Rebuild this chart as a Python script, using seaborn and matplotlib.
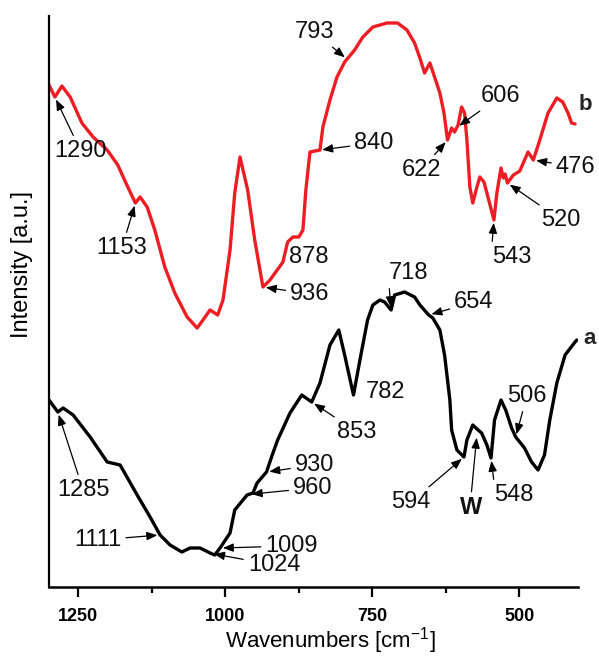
import numpy as np
import pandas as pd
import matplotlib
matplotlib.use("Agg")
import matplotlib.pyplot as plt
import seaborn as sns

# ---- FTIR spectra (wavenumber in cm^-1, intensity in a.u.) ----
# sample b (red, upper trace)
wn_b = [1300, 1290, 1278, 1264, 1244, 1225, 1201, 1183, 1166, 1153,
        1145, 1133, 1120, 1103, 1086, 1065, 1048, 1038, 1026, 1013,
        1004, 992, 984, 975, 962, 950, 936, 924, 902, 894,
        885, 875, 868, 863, 856, 839, 834, 822, 810, 797,
        780, 766, 749, 725, 707, 691, 678, 669, 661, 652,
        644, 635, 628, 622, 615, 610, 604, 598, 593, 589,
        584, 579, 572, 567, 560, 555, 543, 538, 531, 527,
        524, 520, 510, 499, 485, 476, 465, 451, 436, 426,
        417, 411, 405]
int_b = [5.02, 4.90, 5.01, 4.90, 4.64, 4.50, 4.37, 4.22, 4.00, 3.84,
         3.90, 3.80, 3.57, 3.20, 2.94, 2.70, 2.59, 2.67, 2.77, 2.72,
         2.87, 3.37, 3.94, 4.30, 3.97, 3.47, 3.00, 3.07, 3.25, 3.45,
         3.50, 3.50, 3.57, 3.97, 4.35, 4.37, 4.60, 4.87, 5.10, 5.25,
         5.37, 5.50, 5.60, 5.64, 5.64, 5.57, 5.44, 5.29, 5.14, 5.24,
         5.10, 4.94, 4.74, 4.47, 4.59, 4.55, 4.62, 4.80, 4.74, 4.47,
         4.00, 3.84, 4.00, 4.10, 4.05, 3.94, 3.67, 3.94, 4.19, 4.09,
         4.13, 4.04, 4.12, 4.16, 4.35, 4.27, 4.47, 4.74, 4.89, 4.85,
         4.74, 4.64, 4.63]

# sample a (black, lower trace)
wn_a = [1300, 1285, 1276, 1259, 1230, 1201, 1179, 1150, 1128, 1111,
        1094, 1074, 1060, 1043, 1026, 1018, 1009, 992, 984, 963,
        953, 946, 930, 919, 911, 890, 870, 853, 839, 822,
        807, 797, 782, 771, 758, 749, 737, 729, 718, 712,
        695, 678, 669, 654, 647, 635, 627, 618, 615, 606,
        594, 589, 579, 570, 564, 555, 548, 542, 531, 523,
        513, 506, 491, 479, 468, 457, 448, 436, 422, 405,
        402]
int_a = [1.87, 1.75, 1.79, 1.72, 1.50, 1.25, 1.22, 0.92, 0.70, 0.52,
         0.42, 0.35, 0.39, 0.39, 0.34, 0.32, 0.39, 0.54, 0.77, 0.92,
         0.94, 1.04, 1.15, 1.34, 1.47, 1.74, 1.92, 1.85, 2.04, 2.42,
         2.57, 2.32, 1.92, 2.27, 2.67, 2.82, 2.87, 2.85, 2.77, 2.92,
         2.95, 2.90, 2.82, 2.72, 2.69, 2.57, 2.32, 1.87, 1.57, 1.37,
         1.30, 1.47, 1.62, 1.57, 1.54, 1.42, 1.29, 1.67, 1.87, 1.77,
         1.59, 1.50, 1.39, 1.25, 1.17, 1.32, 1.67, 2.04, 2.32, 2.45,
         2.47]

# assigned band positions
bands_b = [1290, 1153, 936, 878, 840, 793, 622, 606, 543, 520, 476]
bands_a = [1285, 1111, 1024, 1009, 960, 930, 853, 782, 718, 654, 594, 548, 506]

major_ticks = [1250, 1000, 750, 500]
minor_ticks = [1125, 875, 625]

sns.set_style("white")
plt.rcParams["font.family"] = ["Liberation Sans", "DejaVu Sans"]
plt.rcParams["mathtext.fontset"] = "custom"
plt.rcParams["mathtext.rm"] = "Liberation Sans"
plt.rcParams["mathtext.default"] = "regular"

df = pd.concat([
    pd.DataFrame({"wavenumber": wn_b, "intensity": int_b, "sample": "b"}),
    pd.DataFrame({"wavenumber": wn_a, "intensity": int_a, "sample": "a"}),
], ignore_index=True)

fig = plt.figure(figsize=(5.99, 6.57), dpi=100)
ax = fig.add_axes([49 / 599, 70 / 657, 529 / 599, 571 / 657])

sns.lineplot(data=df, x="wavenumber", y="intensity", hue="sample",
             palette={"a": "black", "b": "#ee1d23"}, sort=False,
             estimator=None, linewidth=2.4, legend=False, ax=ax)
for ln in ax.lines:
    ln.set_solid_joinstyle("round")
    ln.set_solid_capstyle("round")

ax.set_xlim(1300, 400)
ax.set_ylim(0, 5.71)
ax.set_xticks(major_ticks)
ax.set_xticks(minor_ticks, minor=True)
ax.set_yticks([])
ax.tick_params(axis="x", which="major", bottom=True, direction="out",
               length=7, width=1.6, pad=8, labelsize=13, colors="black")
ax.tick_params(axis="x", which="minor", bottom=True, direction="out",
               length=4, width=1.6, colors="black")
for lbl in ax.get_xticklabels():
    lbl.set_fontweight("bold")

sns.despine(ax=ax)
ax.spines["left"].set_linewidth(1.6)
ax.spines["bottom"].set_linewidth(1.8)
ax.spines["left"].set_color("black")
ax.spines["bottom"].set_color("black")

ax.set_xlabel(r"Wavenumbers [cm$^{-1}$]", fontsize=16, color="black")
ax.xaxis.set_label_coords(281 / 529, -54 / 571)
ax.xaxis.label.set_va("center")
ax.set_ylabel("Intensity [a.u.]", fontsize=17, color="black")
ax.yaxis.set_label_coords(-27 / 529, 322 / 571)
ax.yaxis.label.set_va("center")
ax.yaxis.label.set_ha("center")

arrow_kw = dict(arrowstyle="-|>,head_length=0.45,head_width=0.18",
                color="black", lw=0.9, mutation_scale=14,
                shrinkA=1, shrinkB=2)


def curve_at(wn, xs, ys):
    return float(np.interp(wn, xs[::-1], ys[::-1]))


def mark(label, wn, xs, ys, text_xy, arrow=True, relpos=(0.5, 0.5),
         target=None, weight="normal"):
    if target is None:
        target = (wn, curve_at(wn, xs, ys))
    props = dict(arrow_kw, relpos=relpos) if arrow else None
    ax.annotate(label, xy=target, xytext=text_xy, textcoords="data",
                ha="center", va="center", fontsize=17, color="#111111",
                fontweight=weight, arrowprops=props)


# label placement for sample b
place_b = {
    1290: ((1246, 4.36), True, (0.5, 0.5)),
    1153: ((1176, 3.39), True, (0.5, 0.5)),
    936: ((856, 2.93), True, (0.5, 0.5)),
    878: ((858, 3.30), False, (0.5, 0.5)),
    840: ((747, 4.44), True, (0.5, 0.5)),
    793: ((849, 5.55), True, (0.5, 0.5)),
    622: ((667, 4.17), True, (0.5, 0.5)),
    606: ((531, 4.91), True, (0.5, 0.5)),
    543: ((513, 3.30), True, (0.0, 1.0)),
    520: ((429, 3.67), True, (0.5, 0.5)),
    476: ((404, 4.20), True, (0.5, 0.5)),
}
for wn in bands_b:
    txt, arr, rp = place_b[wn]
    mark(str(wn), wn, wn_b, int_b, txt, arr, rp)

# label placement for sample a
place_a = {
    1285: ((1242, 0.97), True, (0.5, 0.5)),
    1111: ((1217, 0.47), True, (0.5, 0.5)),
    1024: ((917, 0.22), True, (0.5, 0.5)),
    1009: ((887, 0.41), True, (0.5, 0.5)),
    960: ((851, 0.99), True, (0.5, 0.5)),
    930: ((848, 1.22), True, (0.5, 0.5)),
    853: ((776, 1.55), True, (0.5, 0.5)),
    782: ((727, 1.95), False, (0.5, 0.5)),
    718: ((688, 3.14), True, (0.0, 0.0)),
    654: ((577, 2.85), True, (0.5, 0.5)),
    594: ((684, 0.85), True, (0.5, 0.5)),
    548: ((509, 0.92), True, (0.0, 1.0)),
    506: ((487, 1.91), True, (0.5, 0.5)),
}
for wn in bands_a:
    txt, arr, rp = place_a[wn]
    mark(str(wn), wn, wn_a, int_a, txt, arr, rp)

# unassigned shoulder between 594 and 548
mark("W", None, wn_a, int_a, (582, 0.79), True, (0.5, 1.0),
     target=(572, curve_at(572, wn_a, int_a) - 0.06), weight="bold")

ax.text(387, 4.83, "b", ha="center", va="center", fontsize=16, fontweight="bold")
ax.text(380, 2.48, "a", ha="center", va="center", fontsize=16, fontweight="bold")

fig.savefig("out.png", dpi=100)
